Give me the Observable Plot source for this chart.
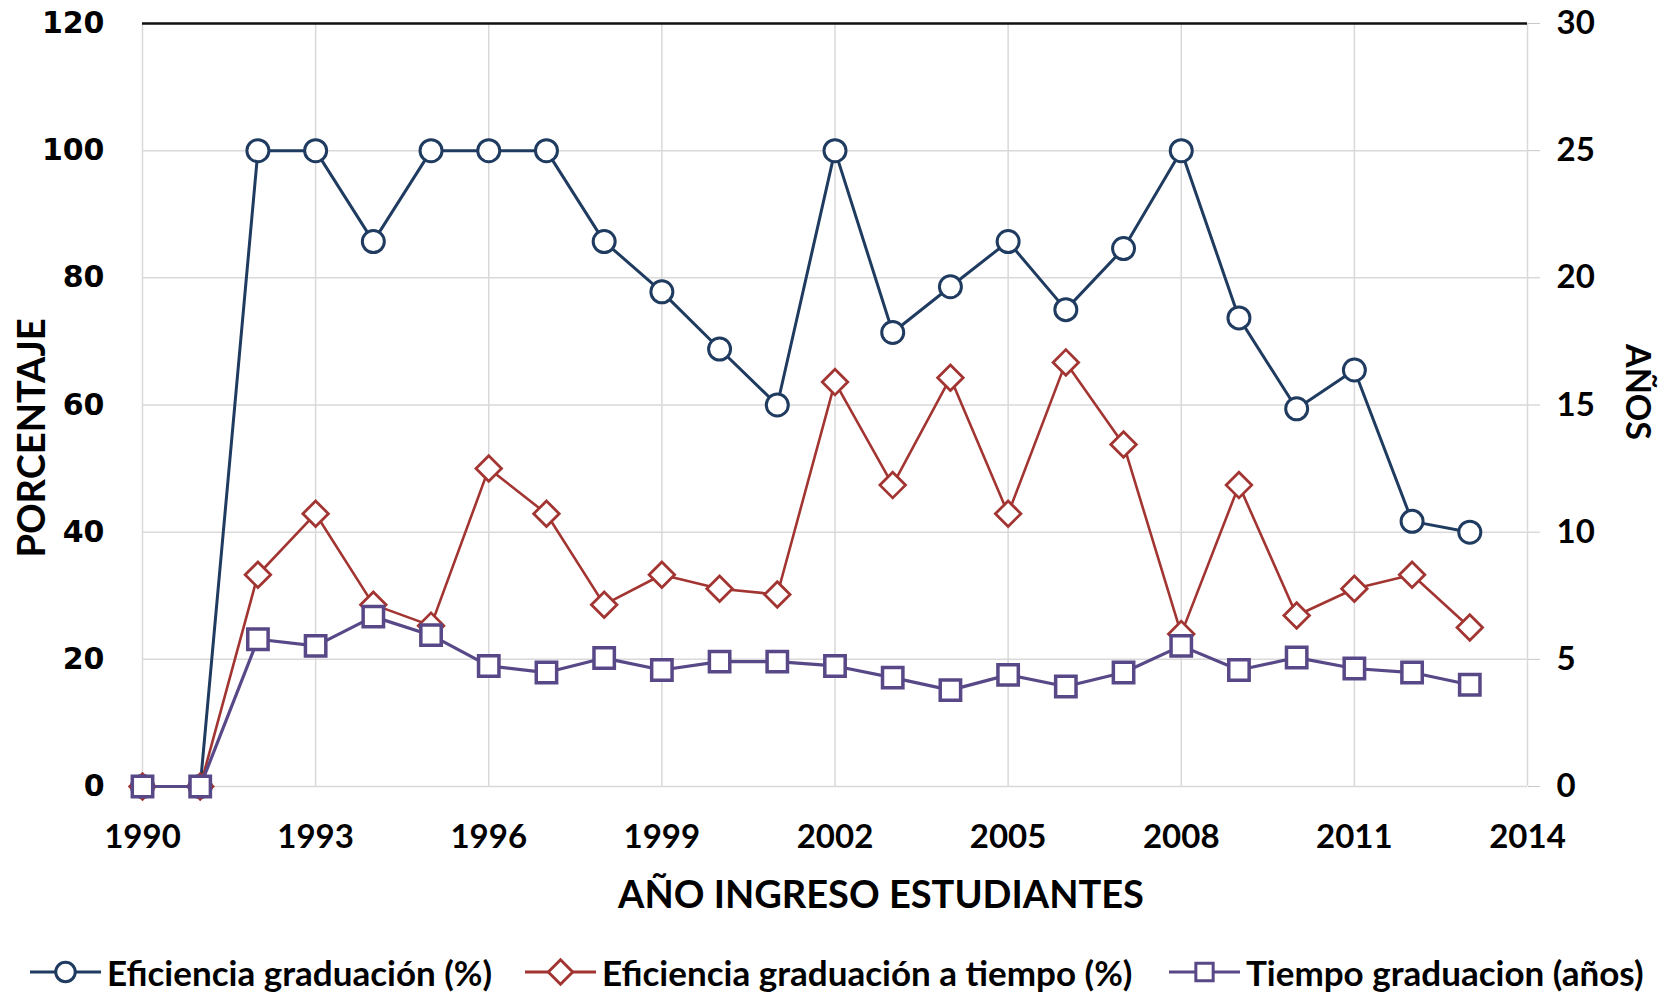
<!DOCTYPE html>
<html>
<head>
<meta charset="utf-8">
<script src="https://cdn.jsdelivr.net/npm/d3@7"></script>
<script src="https://cdn.jsdelivr.net/npm/@observablehq/plot@0.6"></script>
<style>
  html, body { margin: 0; padding: 0; background: #fff; }
  #wrap { width: 1671px; height: 992px; position: relative; overflow: hidden; }
  #legend { position: relative; width: 1671px; height: 57px; font-family: Lato, sans-serif; font-weight: bold; font-size: 35px; color: #000; }
  .item { position: absolute; top: 8px; height: 57px; display: flex; align-items: center; }
  .item svg { display: block; }
  .item span { margin-left: 6px; white-space: nowrap; }
</style>
</head>
<body>
<div id="wrap">
  <div id="chart"></div>
  <div id="legend"></div>
</div>
<script>
// ---- data ----
const years = [1990,1991,1992,1993,1994,1995,1996,1997,1998,1999,2000,2001,2002,2003,2004,2005,2006,2007,2008,2009,2010,2011,2012,2013];
const eficiencia = [0,0,100,100,85.7,100,100,100,85.7,77.8,68.8,60,100,71.4,78.6,85.7,75,84.6,100,73.7,59.4,65.5,41.7,40];
const eficienciaTiempo = [0,0,33.3,42.9,28.6,25.3,50,42.9,28.6,33.3,31.1,30.2,63.6,47.4,64.3,42.9,66.7,53.8,24,47.4,26.9,31.1,33.3,25];
const tiempoAnios = [0,0,5.79,5.53,6.68,5.95,4.74,4.48,5.05,4.58,4.91,4.91,4.74,4.28,3.79,4.39,3.93,4.48,5.53,4.58,5.07,4.64,4.48,4.0];
const xTicks = [1990,1993,1996,1999,2002,2005,2008,2011,2014];
const yTicks = [0,20,40,60,80,100,120];
const rightTicks = [0,5,10,15,20,25,30];
const seriesNames = ["Eficiencia graduación (%)", "Eficiencia graduación a tiempo (%)", "Tiempo graduacion (años)"];
const colors = ["#1f3b60", "#a23532", "#584887"];

// secondary axis: 0..30 años mapped onto 0..120 of the primary scale
const ratio = 120 / 30;

const rows = years.map((yr, i) => ({year: yr, a: eficiencia[i], b: eficienciaTiempo[i], c: tiempoAnios[i] * ratio}));

const chart = Plot.plot({
  width: 1671,
  height: 935,
  marginLeft: 142,
  marginRight: 144,
  marginTop: 23,
  marginBottom: 149,
  x: {domain: [1990, 2014]},
  y: {domain: [0, 120]},
  style: {fontFamily: "Lato, sans-serif", background: "white", color: "#000", overflow: "visible"},
  marks: [
    Plot.gridX(xTicks, {stroke: "#d9d9d9", strokeOpacity: 1, strokeWidth: 1.5}),
    Plot.gridY(yTicks, {stroke: "#d9d9d9", strokeOpacity: 1, strokeWidth: 1.5}),
    Plot.ruleY([120], {stroke: "#111", strokeWidth: 2.5}),
    Plot.axisX(xTicks, {tickSize: 0, tickPadding: 38, fontSize: 33, fontWeight: "bold", label: null, tickFormat: d => String(d)}),
    Plot.axisY(yTicks, {anchor: "left", tickSize: 0, tickPadding: 38, fontSize: 30, fontWeight: "bold", fontFamily: "DejaVu Sans", label: null}),
    Plot.axisY(rightTicks.map(d => d * ratio), {anchor: "right", tickSize: 12, stroke: "#c8c8c8", tickPadding: 17, fontSize: 33, fontWeight: "bold", label: null, tickFormat: d => String(d / ratio)}),
    Plot.text(["AÑO INGRESO ESTUDIANTES"], {frameAnchor: "bottom", dx: 46, dy: 109, fontSize: 38, fontWeight: "bold", lineAnchor: "middle", textAnchor: "middle", fill: "#000"}),
    Plot.text(["PORCENTAJE"], {frameAnchor: "left", dx: -110, dy: 33, rotate: -90, fontSize: 38, fontWeight: "bold", lineAnchor: "middle", textAnchor: "middle", fill: "#000"}),
    Plot.text(["AÑOS"], {frameAnchor: "right", dx: 109, dy: -13, rotate: 90, fontSize: 34, fontWeight: "bold", lineAnchor: "middle", textAnchor: "middle", fill: "#000"}),
    // series 1
    Plot.line(rows, {x: "year", y: "a", stroke: colors[0], strokeWidth: 3}),
    Plot.dot(rows, {x: "year", y: "a", r: 11, stroke: colors[0], strokeWidth: 3, fill: "white"}),
    // series 2
    Plot.line(rows, {x: "year", y: "b", stroke: colors[1], strokeWidth: 2.6}),
    Plot.dot(rows, {x: "year", y: "b", symbol: "diamond2", r: 11.5, stroke: colors[1], strokeWidth: 2.8, fill: "white"}),
    // series 3
    Plot.line(rows, {x: "year", y: "c", stroke: colors[2], strokeWidth: 3.2}),
    Plot.dot(rows, {x: "year", y: "c", symbol: "square", r: 11.5, stroke: colors[2], strokeWidth: 3.5, fill: "white"})
  ]
});
document.getElementById("chart").appendChild(chart);

// ---- legend ----
const legend = document.getElementById("legend");
const legendX = [30, 525, 1169];
const symbols = ["circle", "diamond2", "square"];
seriesNames.forEach((name, i) => {
  const item = document.createElement("div");
  item.className = "item";
  item.style.left = legendX[i] + "px";
  const sw = d3.create("svg").attr("width", 71).attr("height", 34);
  sw.append("line").attr("x1", 0).attr("x2", 71).attr("y1", 17).attr("y2", 17).attr("stroke", colors[i]).attr("stroke-width", 3);
  const sym = {circle: d3.symbolCircle, diamond2: d3.symbolDiamond2, square: d3.symbolSquare}[symbols[i]];
  const size = {circle: 300, diamond2: 380, square: 300}[symbols[i]];
  sw.append("path").attr("d", d3.symbol(sym, size)()).attr("transform", "translate(35.5,17)")
    .attr("fill", "white").attr("stroke", colors[i]).attr("stroke-width", 3);
  item.appendChild(sw.node());
  const t = document.createElement("span");
  t.textContent = name;
  item.appendChild(t);
  legend.appendChild(item);
});
</script>
</body>
</html>
